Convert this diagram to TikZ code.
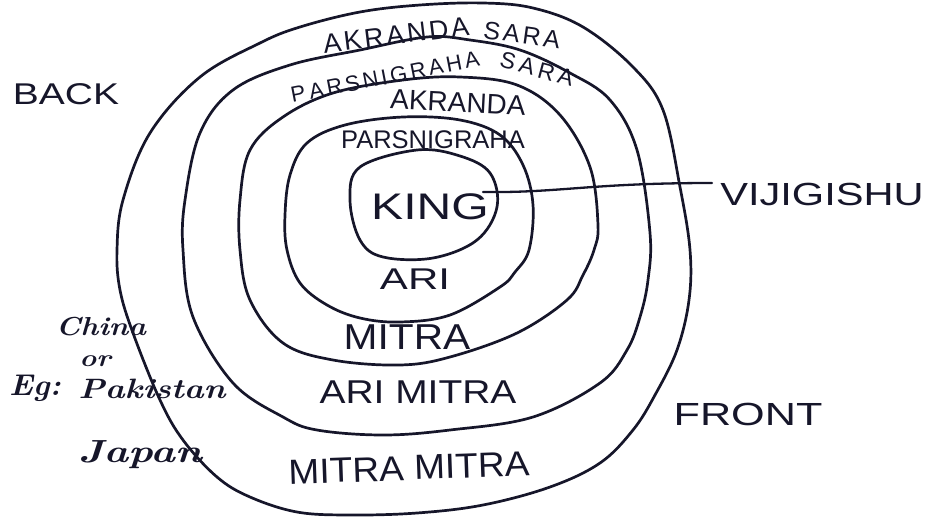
\documentclass[tikz,border=0pt]{standalone}
\usepackage{fontspec}
\newfontfamily\hand{Liberation Sans}
\definecolor{ink}{HTML}{16162A}
\newcommand{\fsz}[1]{\fontsize{#1}{#1}\selectfont}
\newcommand{\trk}[1]{\addfontfeature{LetterSpace=#1}}
\tikzset{
  ring/.style={draw=ink, line width=2.7pt, line join=round, line cap=round},
  lbl/.style={text=ink, inner sep=0pt, font=\hand},
  cur/.style={text=ink, inner sep=0pt, font=\bfseries\itshape},
  conn/.style={draw=ink, line width=2.3pt, line cap=round}
}
\begin{document}
\begin{tikzpicture}[x=1pt,y=-1pt]
\useasboundingbox (0,0) rectangle (928,517);

% rings (innermost to outermost)
\draw[ring] plot[smooth cycle, tension=0.6] coordinates {(417,150) (460,156) (490,173) (497,207) (477,240) (433,258) (383,257) (360,240) (350,200) (360,167)};
\draw[ring] plot[smooth cycle, tension=0.6] coordinates {(403,117) (460,120) (500,135) (523,165) (533,205) (529,250) (515,272) (500,287) (450,315) (400,322) (360,318) (327,305) (300,283) (287,250) (285,215) (290,175) (307,143) (345,125)};
\draw[ring] plot[smooth cycle, tension=0.6] coordinates {(403,80) (460,77) (517,85) (560,115) (590,167) (598,225) (594,250) (583,275) (567,300) (517,333) (450,357) (400,365) (333,360) (283,343) (250,300) (240,250) (240,200) (250,150) (283,117) (333,93)};
\draw[ring] plot[smooth cycle, tension=0.6] coordinates {(427,37) (470,40) (520,50) (570,73) (610,100) (637,150) (650,233) (648,280) (640,317) (627,350) (600,383) (533,417) (450,430) (383,435) (317,430) (283,417) (233,383) (193,317) (183,250) (185,200) (200,133) (233,90) (290,65) (360,50)};
\draw[ring] plot[smooth cycle, tension=0.6] coordinates {(420,5) (483,3) (533,8) (583,27) (633,67) (663,110) (680,187) (690,250) (689,300) (677,350) (655,395) (633,430) (600,463) (550,487) (483,505) (417,513) (350,515) (297,512) (250,497) (217,477) (183,440) (160,400) (133,333) (120,290) (117,250) (123,200) (150,133) (200,77) (260,43) (300,27) (360,12)};

% ring labels
\node[lbl, xscale=1.3] (back) at (66,94) {\fsz{30}BACK};
\node[lbl, rotate=7] (aks1) at (396,35) {\fsz{27}\trk{10}AKRANDA};
\node[lbl, rotate=-8] (aks2) at (522,35) {\fsz{25}\trk{12}SARA};
\node[lbl, rotate=11] (pss1) at (385,77) {\fsz{22}\trk{14}P\kern4pt ARSNIGRAHA};
\node[lbl, rotate=-15] (pss2) at (537,69) {\fsz{23}\trk{18}SARA};
\node[lbl, rotate=-3] (akr) at (458,102) {\fsz{28}AKRANDA};
\node[lbl] (psg) at (433,140) {\fsz{25.5}PARSNIGRAHA};
\node[lbl, xscale=1.3] (king) at (430,207) {\fsz{37}KING};
\node[lbl, xscale=1.4] (ari) at (415,279) {\fsz{30}ARI};
\node[lbl, xscale=1.13] (mitra) at (407,337) {\fsz{36}MITRA};
\node[lbl, xscale=1.18] (arimitra) at (418,392) {\fsz{33}ARI MITRA};
\node[lbl, rotate=2, xscale=1.06] (mm) at (409,468) {\fsz{35}MITRA MITRA};
\node[lbl, xscale=1.35] (front) at (748,414) {\fsz{32}FRONT};
\node[lbl, anchor=west, xscale=1.3] (vij) at (720,194) {\fsz{32}VIJIGISHU};

% handwritten examples
\node[cur, xscale=1.15] (china) at (101,327) {\fsz{26}China};
\node[cur, xscale=1.2] (or) at (95,361) {\fsz{24}or};
\node[cur, xscale=1.05] (eg) at (35,388) {\fsz{30}Eg:};
\node[cur, xscale=1.2] (pak) at (152,389) {\fsz{28}Pakistan};
\node[cur, xscale=1.3] (japan) at (140,455) {\fsz{32}Japan};

% connector king -> vijigishu
\coordinate (vstart) at (483,192);
\coordinate (vend) at (712,183);
\draw[conn] (vstart) .. controls (560,193) and (590,183) .. (vend);
\end{tikzpicture}
\end{document}
